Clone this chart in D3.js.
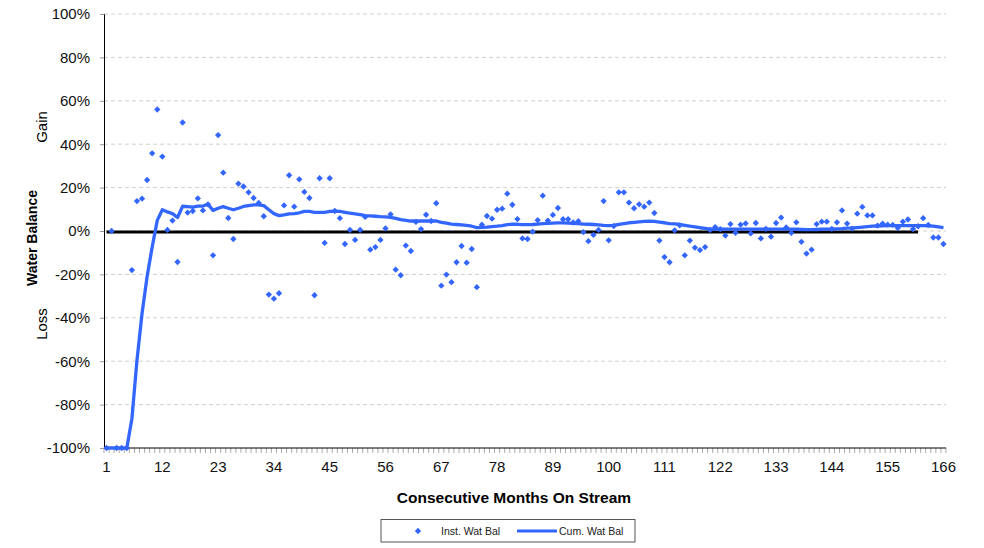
<!DOCTYPE html>
<html>
<head>
<meta charset="utf-8">
<script src="https://cdn.jsdelivr.net/npm/d3@7"></script>
<style>
  body { margin: 0; background: #fff; }
  svg { font-family: "Liberation Sans", Arial, sans-serif; }
</style>
</head>
<body>
<svg id="chart" width="984" height="548"></svg>
<script>
// months on stream 1..166
const months = d3.range(1, 167);
const xLabelMonths = [1, 12, 23, 34, 45, 56, 67, 78, 89, 100, 111, 122, 133, 144, 155, 166];
const yTicks = [-100, -80, -60, -40, -20, 0, 20, 40, 60, 80, 100];
const zeroLineMonths = [1, 161];

// instantaneous water balance (%), one per month
const instWatBal = [
  -100, 0, -100, -100, -100, -18, 13.8, 14.9, 23.5, 35.8,
  56, 34.3, 0.5, 4.8, -14.3, 50, 8.5, 9.2, 15, 9.5,
  12.3, -11.2, 44.2, 26.9, 6, -3.7, 21.8, 20.5, 17.8, 15.2,
  12.9, 6.8, -29.3, -31.2, -28.7, 11.8, 25.7, 11.2, 23.8, 18,
  15.2, -29.6, 24.3, -5.5, 24.3, 9.2, 5.9, -6, 0.5, -4.1,
  0.5, 6.5, -8.6, -7.4, -4.1, 1.2, 7.7, -17.8, -20.4, -6.7,
  -9.2, 4.2, 0.9, 7.5, 4.6, 12.8, -25.2, -20.1, -23.6, -14.4,
  -6.9, -14.6, -8.3, -25.9, 2.9, 6.9, 5.7, 9.8, 10.3, 17.2,
  12.1, 5.5, -3.4, -3.7, -0.3, 5, 16.3, 4.8, 7.4, 10.6,
  5.4, 5.4, 3.9, 4.5, -0.5, -4.7, -1.8, 0.5, 13.8, -4.3,
  2.3, 17.8, 17.8, 13.1, 10.5, 12.3, 11.2, 13.1, 8.3, -4.4,
  -12, -14.4, 0.3, 2.6, -11.2, -4.4, -7.7, -8.8, -7.4, 0.5,
  1.8, 0.9, -2.1, 3.2, -0.8, 2.9, 3.5, -1.1, 3.7, -3.4,
  1, -2.6, 3.7, 6.2, 1.6, -0.9, 4, -5, -10.4, -8.6,
  3.2, 4.3, 4.3, 1, 4, 9.5, 3.4, 1.1, 8, 11.1,
  7.2, 7.2, 2.5, 3.4, 2.9, 2.8, 1.4, 4.3, 5.3, 0.9,
  2.2, 5.9, 2.8, -3, -3, -6
];

// cumulative water balance (%), one per month
const cumWatBal = [
  -100, -100, -100, -100, -100, -86.5, -59.6, -38, -21, -7.4,
  4.9, 9.8, 8.8, 8, 6.2, 11.4, 11.2, 11, 11.5, 11.5,
  12.3, 9.5, 10.5, 11.2, 10.5, 9.8, 10.5, 11.3, 11.7, 12,
  12, 11.7, 9.8, 8, 7.1, 7.4, 7.9, 8, 8.4, 9,
  9, 8.6, 8.6, 8.6, 9, 9.1, 9, 8.6, 8.2, 7.9,
  7.5, 7.1, 7, 6.8, 6.6, 6.5, 6.3, 5.8, 5.2, 4.9,
  4.6, 4.6, 4.6, 4.6, 4.7, 4.6, 4.0, 3.6, 3.2, 3.0,
  2.8, 2.6, 2.2, 1.6, 1.7, 1.8, 2.0, 2.2, 2.5, 2.9,
  3.2, 3.1, 2.9, 2.9, 3.0, 3.2, 3.4, 3.5, 3.6, 3.7,
  3.7, 3.6, 3.5, 3.4, 3.2, 3.1, 3.0, 2.8, 2.6, 2.5,
  2.6, 3.0, 3.4, 3.8, 4.0, 4.2, 4.4, 4.5, 4.4, 4.1,
  3.8, 3.4, 3.3, 3.0, 2.6, 2.2, 1.9, 1.5, 1.2, 0.9,
  0.9, 0.9, 0.9, 0.9, 0.9, 0.9, 0.9, 0.9, 0.9, 0.9,
  0.9, 0.9, 0.9, 0.9, 0.9, 0.9, 0.8, 0.7, 0.6, 0.6,
  0.7, 0.8, 0.9, 0.9, 1.0, 1.1, 1.3, 1.4, 1.6, 1.8,
  2.0, 2.2, 2.3, 2.4, 2.5, 2.5, 2.5, 2.5, 2.5, 2.5,
  2.5, 2.5, 2.4, 2.2, 1.9, 1.6
];

const blue = "#3366ff";
const svg = d3.select("#chart");

const x = d3.scaleBand().domain(months).range([104, 946]).padding(0);
const xc = m => x(m) + x.bandwidth() / 2;
const y = d3.scaleLinear().domain([-100, 100]).range([448, 14]);

// gridlines
svg.append("g")
  .selectAll("line")
  .data(yTicks.filter(d => d !== -100))
  .enter()
  .append("line")
  .attr("x1", 104).attr("x2", 946)
  .attr("y1", d => y(d)).attr("y2", d => y(d))
  .attr("stroke", "#cfcfcf")
  .attr("stroke-dasharray", "4,3");

// y axis
const yAxis = svg.append("g")
  .attr("transform", "translate(104,0)")
  .call(d3.axisLeft(y).tickValues(yTicks).tickFormat(d => d + "%").tickSize(4).tickPadding(10));
yAxis.select(".domain").attr("stroke", "#000");
yAxis.selectAll(".tick line").attr("stroke", "#999");
yAxis.selectAll("text").attr("font-size", 15).attr("fill", "#111").attr("font-family", "Liberation Sans, Arial, sans-serif");

// x axis: one tick per month boundary, labels every 11 months
svg.append("g")
  .selectAll("line")
  .data(months.map(m => x(m)).concat([x.range()[1]]))
  .enter()
  .append("line")
  .attr("x1", d => d).attr("x2", d => d)
  .attr("y1", 448).attr("y2", 453)
  .attr("stroke", "#aaa");
const xAxis = svg.append("g")
  .attr("transform", "translate(0,448)")
  .call(d3.axisBottom(x).tickValues(xLabelMonths).tickSize(0).tickPadding(13));
xAxis.select(".domain").remove();
xAxis.selectAll("text").attr("font-size", 15).attr("fill", "#111").attr("font-family", "Liberation Sans, Arial, sans-serif");
svg.append("line")
  .attr("x1", 104).attr("x2", 946)
  .attr("y1", 448).attr("y2", 448)
  .attr("stroke", "#000");

// zero reference line
svg.append("line")
  .attr("x1", xc(zeroLineMonths[0])).attr("x2", xc(zeroLineMonths[1]))
  .attr("y1", y(0) + 1).attr("y2", y(0) + 1)
  .attr("stroke", "#000")
  .attr("stroke-width", 3);

// cumulative line
svg.append("path")
  .datum(months)
  .attr("fill", "none")
  .attr("stroke", blue)
  .attr("stroke-width", 3.3)
  .attr("stroke-linejoin", "round")
  .attr("d", d3.line().x(m => xc(m)).y((m, i) => y(cumWatBal[i])));

// instantaneous points (diamonds)
const diamond = d3.symbol().type(d3.symbolSquare).size(20);
svg.append("g")
  .selectAll("path")
  .data(months)
  .enter()
  .append("path")
  .attr("d", diamond)
  .attr("transform", (m, i) => `translate(${xc(m)},${y(instWatBal[i])}) rotate(45)`)
  .attr("fill", blue);

// axis titles
svg.append("text")
  .attr("transform", "translate(37,238) rotate(-90)")
  .attr("text-anchor", "middle")
  .attr("font-size", 14)
  .attr("font-weight", "bold")
  .text("Water Balance");
svg.append("text")
  .attr("transform", "translate(47,127) rotate(-90)")
  .attr("text-anchor", "middle")
  .attr("font-size", 15)
  .text("Gain");
svg.append("text")
  .attr("transform", "translate(47,324) rotate(-90)")
  .attr("text-anchor", "middle")
  .attr("font-size", 15)
  .text("Loss");
svg.append("text")
  .attr("x", 514).attr("y", 503)
  .attr("text-anchor", "middle")
  .attr("font-size", 15.5)
  .attr("font-weight", "bold")
  .text("Consecutive Months On Stream");

// legend
const legend = svg.append("g");
legend.append("rect")
  .attr("x", 381).attr("y", 519.5)
  .attr("width", 254).attr("height", 22.5)
  .attr("fill", "#fff")
  .attr("stroke", "#555");
legend.append("path")
  .attr("d", diamond)
  .attr("transform", "translate(418,531) rotate(45)")
  .attr("fill", blue);
legend.append("text")
  .attr("x", 441).attr("y", 534.5)
  .attr("font-size", 10.5)
  .attr("fill", "#222")
  .text("Inst. Wat Bal");
legend.append("line")
  .attr("x1", 517).attr("x2", 557)
  .attr("y1", 531).attr("y2", 531)
  .attr("stroke", blue)
  .attr("stroke-width", 3);
legend.append("text")
  .attr("x", 559).attr("y", 534.5)
  .attr("font-size", 10.5)
  .attr("fill", "#222")
  .text("Cum. Wat Bal");
</script>
</body>
</html>
